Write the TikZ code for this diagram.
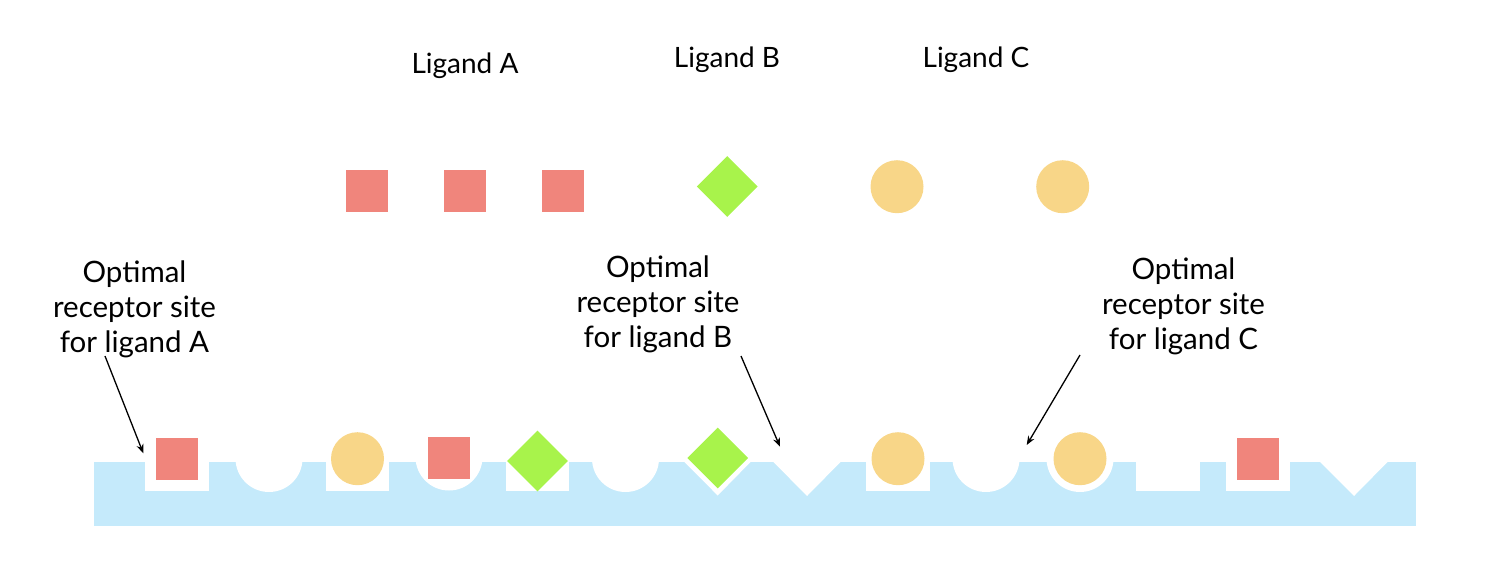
\documentclass[tikz,border=0pt]{standalone}
\usepackage{fontspec}
\setmainfont{Lato}
\usetikzlibrary{shapes.geometric,arrows.meta}
\definecolor{salmonred}{RGB}{240,133,124}
\definecolor{sandyellow}{RGB}{248,214,136}
\definecolor{limegreen}{RGB}{168,243,75}
\definecolor{membrane}{RGB}{197,234,251}
\tikzstyle{ligsq} = [rectangle, fill=salmonred, minimum size=42pt, inner sep=0pt]
\tikzstyle{ligci} = [circle, fill=sandyellow, minimum size=53pt, inner sep=0pt]
\tikzstyle{ligdi} = [diamond, fill=limegreen, minimum size=61pt, inner sep=0pt]
\tikzstyle{pocket} = [fill=white]
\tikzstyle{title} = [anchor=base, inner sep=0pt, font=\fontsize{28}{35}\selectfont]
\tikzstyle{sitetext} = [anchor=base, align=center, inner sep=0pt, font=\fontsize{29.5}{35}\selectfont]
\tikzstyle{arrow} = [line width=1.3pt, -{Stealth[length=9pt,width=7pt]}]

\begin{document}
\begin{tikzpicture}[x=1pt,y=1pt]
        \useasboundingbox (0,0) rectangle (1502,-560);

        % Free ligands
        \node[title] (titleA) at (465,-73) {Ligand A};
        \node[title] (titleB) at (727,-67.7) {Ligand B};
        \node[title] (titleC) at (976,-67.7) {Ligand C};

        \node[ligsq] (a1) at (367,-191) {};
        \node[ligsq] (a2) at (465,-191) {};
        \node[ligsq] (a3) at (563,-191) {};
        \node[ligdi] (b1) at (727.3,-186.5) {};
        \node[ligci] (c1) at (897,-186.7) {};
        \node[ligci] (c2) at (1062.7,-186.7) {};

        % Receptor surface
        \fill[membrane] (94,-462) rectangle (1416,-526);
            \fill[pocket] (145,-461) rectangle (209,-491);
            \fill[pocket] (326,-461) rectangle (389,-491);
            \fill[pocket] (506,-461) rectangle (569,-491);
            \fill[pocket] (866,-461) rectangle (930,-491);
            \fill[pocket] (1136,-461) rectangle (1200,-491);
            \fill[pocket] (1226,-461) rectangle (1290,-491);

            \fill[pocket] (269,-458.5) circle (33.5);
            \fill[pocket] (449,-457) circle (33.5);
            \fill[pocket] (625.5,-458.5) circle (33.5);
            \fill[pocket] (986,-458.5) circle (33.5);
            \fill[pocket] (1080,-458.5) circle (33.5);

            \fill[pocket] (683.5,-461) -- (717.7,-495.5) -- (751.5,-461) -- cycle;
            \fill[pocket] (772.5,-461) -- (807,-496) -- (841.5,-461) -- cycle;
            \fill[pocket] (1319,-461) -- (1354,-496) -- (1388.5,-461) -- cycle;

        % Bound ligands
        \node[ligsq] (s1) at (176.5,-459) {};
        \node[ligci] (s2) at (357.5,-458.7) {};
        \node[ligsq] (s3) at (449,-457.5) {};
        \node[ligdi] (s4) at (537.5,-461) {};
        \node[ligdi] (s5) at (717.7,-458) {};
        \node[ligci] (s6) at (898,-458.7) {};
        \node[ligci] (s7) at (1080,-458.7) {};
        \node[ligsq] (s8) at (1258,-459) {};

        % Draw Arrows
        \node[sitetext] (siteA) at (134.5,-352.7) {Optimal\\receptor site\\for ligand A};
        \node[sitetext] (siteB) at (658,-347) {Optimal\\receptor site\\for ligand B};
        \node[sitetext] (siteC) at (1183.5,-349.3) {Optimal\\receptor site\\for ligand C};

        \coordinate (tailA) at (105,-356);
        \coordinate (tipA) at (143.3,-453.3);
        \coordinate (tailB) at (741,-356);
        \coordinate (tipB) at (780,-446.7);
        \coordinate (tailC) at (1080,-355);
        \coordinate (tipC) at (1026.7,-445);

        \draw[arrow] (tailA) -- (tipA);
        \draw[arrow] (tailB) -- (tipB);
        \draw[arrow] (tailC) -- (tipC);

    \end{tikzpicture}
\end{document}
